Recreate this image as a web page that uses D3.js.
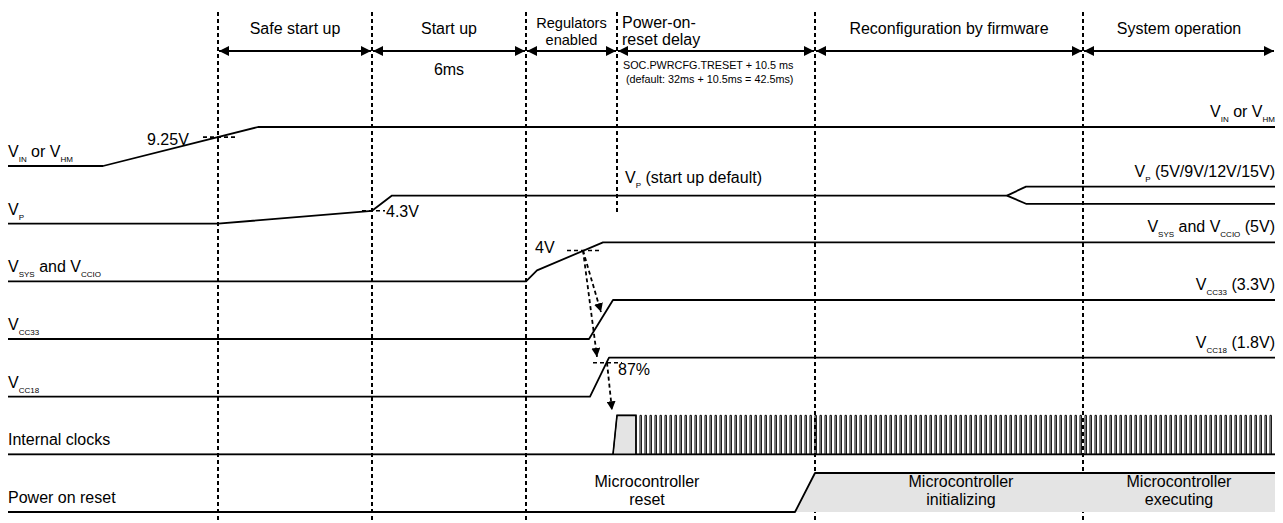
<!DOCTYPE html>
<html>
<head>
<meta charset="utf-8">
<script src="https://cdn.jsdelivr.net/npm/d3@7"></script>
<style>
body { margin: 0; background: #fff; }
text { font-family: "Liberation Sans", Arial, sans-serif; fill: #000; }
</style>
</head>
<body>
<svg id="chart"></svg>
<script>
// phase boundaries (time units) and their header labels
const phaseEdges = [218, 372, 526, 617, 815, 1083, 1275];
const phaseNames = [["Safe start up"], ["Start up"], ["Regulators", "enabled"], ["Power-on-", "reset delay"], ["Reconfiguration by firmware"], ["System operation"]];

// one row per signal
const signalRows = ["vin", "vp", "vsys", "vcc33", "vcc18", "clk", "por"];
const leftLabels = ["V_{IN} or V_{HM}", "V_{P}", "V_{SYS} and V_{CCIO}", "V_{CC33}", "V_{CC18}", "Internal clocks", "Power on reset"];
const rightLabels = ["V_{IN} or V_{HM}", "V_{P} (5V/9V/12V/15V)", "V_{SYS} and V_{CCIO} (5V)", "V_{CC33} (3.3V)", "V_{CC18} (1.8V)", "", ""];

// waveforms: [time, level]   level 0 = off, 1 = full
const vinWave   = [[8, 0], [103, 0], [258, 1], [1275, 1]];
const vpWave    = [[8, 0], [218, 0], [372, 0.33], [392, 0.72], [1007, 0.72]];
const vpUpper   = [[1007, 0.72], [1026, 0.95], [1275, 0.95]];
const vpLower   = [[1007, 0.72], [1026, 0.51], [1275, 0.51]];
const vsysWave  = [[8, 0], [526, 0], [537, 0.28], [603, 1], [1275, 1]];
const vcc33Wave = [[8, 0], [589, 0], [613, 1], [1275, 1]];
const vcc18Wave = [[8, 0], [590, 0], [609, 1], [1275, 1]];
const clkFirst  = [[613, 0], [617, 1], [636, 1], [636, 0]];
const clkTrain  = [640, 1275, 5];   // start, end, period
const porWave   = [[8, 0], [795, 0], [815, 1], [1275, 1]];

// threshold marks: row, level, dash from/to, label
const thresholds = [
  {row: "vin",   level: 0.74, t0: 203, t1: 238, label: "9.25V", lx: 147, ly: 145},
  {row: "vp",    level: 0.33, t0: 362, t1: 385, label: "4.3V",  lx: 386, ly: 217},
  {row: "vsys",  level: 0.79, t0: 567, t1: 602, label: "4V",    lx: 535, ly: 253},
  {row: "vcc18", level: 0.87, t0: 593, t1: 622, label: "87%",   lx: 618, ly: 375}
];
// dashed cause -> effect arrows
const triggers = [
  {from: [583, "vsys", 0.79], to: [601, "vcc33", 0.69]},
  {from: [583, "vsys", 0.79], to: [597, "vcc18", 1.02]},
  {from: [607, "vcc18", 0.87], to: [612, "clk", 1.13]}
];
const resetTexts = [[647, ["Microcontroller", "reset"]], [961, ["Microcontroller", "initializing"]], [1179, ["Microcontroller", "executing"]]];

const W = 1283, H = 523;
const svg = d3.select("#chart").attr("width", W).attr("height", H);

const x = d3.scaleLinear().domain([0, W]).range([0, W]);
const rowY = d3.scalePoint().domain(signalRows).range([166, 512]);
const amp = d3.scaleLinear().domain([0, 1]).range([0, -39]);
const yOf = (row, lv) => rowY(row) + amp(lv);

// text with _{sub} parts
function rich(sel, str, size, subSize) {
  sel.attr("font-size", size);
  let shift = 0;
  str.split(/(_\{[^}]*\})/).filter(s => s).forEach(p => {
    if (p.startsWith("_{")) {
      sel.append("tspan").attr("font-size", subSize).attr("dy", 5 - shift).text(p.slice(2, -1));
      shift = 5;
    } else {
      sel.append("tspan").attr("dy", -shift).text(p);
      shift = 0;
    }
  });
}

const defs = svg.append("defs");
defs.append("marker").attr("id", "head").attr("viewBox", "0 0 10 10")
  .attr("refX", 10).attr("refY", 5).attr("markerUnits", "userSpaceOnUse")
  .attr("markerWidth", 11).attr("markerHeight", 10).attr("orient", "auto-start-reverse")
  .append("path").attr("d", "M0,0L10,5L0,10z").attr("fill", "#000");
defs.append("marker").attr("id", "dhead").attr("viewBox", "0 0 10 10")
  .attr("refX", 10).attr("refY", 5).attr("markerUnits", "userSpaceOnUse")
  .attr("markerWidth", 9).attr("markerHeight", 9).attr("orient", "auto")
  .append("path").attr("d", "M0,0L10,5L0,10z").attr("fill", "#000");

// vertical phase lines
svg.append("g").selectAll("line")
  .data(phaseEdges.slice(0, -1))
  .join("line")
  .attr("x1", d => x(d)).attr("x2", d => x(d))
  .attr("y1", 12).attr("y2", d => d === 617 ? 213 : 521)
  .attr("stroke", "#000").attr("stroke-width", 2).attr("stroke-dasharray", "4,3");

// header arrows + labels
const phases = d3.pairs(phaseEdges);
svg.append("g").selectAll("line")
  .data(phases)
  .join("line")
  .attr("x1", d => x(d[0]) + 1).attr("x2", d => x(d[1]) - 1)
  .attr("y1", 51).attr("y2", 51)
  .attr("stroke", "#000").attr("stroke-width", 2)
  .attr("marker-start", "url(#head)").attr("marker-end", "url(#head)");

phases.forEach((p, i) => {
  const lines = phaseNames[i];
  const left = i === 3;
  const t = svg.append("text")
    .attr("text-anchor", left ? "start" : "middle")
    .attr("font-size", i === 2 ? 14.6 : 16);
  lines.forEach((s, j) => {
    t.append("tspan").attr("x", left ? x(p[0]) + 5 : x((p[0] + p[1]) / 2))
      .attr("y", lines.length > 1 ? 28 + j * 17 : 34).text(s);
  });
});

svg.append("text").attr("x", x(449)).attr("y", 75).attr("text-anchor", "middle").attr("font-size", 16).text("6ms");
svg.append("text").attr("x", x(623)).attr("y", 69).attr("font-size", 10.8).text("SOC.PWRCFG.TRESET + 10.5 ms");
svg.append("text").attr("x", x(626)).attr("y", 83).attr("font-size", 10.8).text("(default: 32ms + 10.5ms = 42.5ms)");

// waveforms
const line = d3.line().x(d => x(d[0]));
const waves = [["vin", vinWave], ["vp", vpWave], ["vp", vpUpper], ["vp", vpLower], ["vsys", vsysWave],
  ["vcc33", vcc33Wave], ["vcc18", vcc18Wave], ["por", porWave]];

// gray fills
svg.append("path")
  .attr("d", d3.area().x(d => x(d[0])).y0(rowY("por")).y1(d => yOf("por", d[1]))(porWave.slice(1)))
  .attr("fill", "#e4e4e4");
svg.append("path")
  .attr("d", d3.area().x(d => x(d[0])).y0(rowY("clk")).y1(d => yOf("clk", d[1]))(clkFirst))
  .attr("fill", "#e4e4e4");

svg.append("g").selectAll("path")
  .data(waves)
  .join("path")
  .attr("d", d => line.y(p => yOf(d[0], p[1]))(d[1]))
  .attr("fill", "none").attr("stroke", "#000").attr("stroke-width", 1.8).attr("stroke-linejoin", "round");

// clock
const clkPts = [[8, 0], ...clkFirst];
d3.range(clkTrain[0], clkTrain[1] - 1, clkTrain[2]).forEach(t => {
  clkPts.push([t, 0], [t, 1], [t + 1.4, 1], [t + 1.4, 0]);
});
clkPts.push([clkTrain[1], 0]);
svg.append("path")
  .attr("d", line.y(p => yOf("clk", p[1]))(clkPts))
  .attr("fill", "none").attr("stroke", "#000").attr("stroke-width", 1);
svg.append("path")
  .attr("d", line.y(p => yOf("clk", p[1]))(clkFirst))
  .attr("fill", "none").attr("stroke", "#000").attr("stroke-width", 1.6);
svg.append("line").attr("x1", x(8)).attr("x2", x(1275)).attr("y1", rowY("clk")).attr("y2", rowY("clk"))
  .attr("stroke", "#000").attr("stroke-width", 1.8);

// labels left / right
signalRows.forEach((r, i) => {
  rich(svg.append("text").attr("x", x(8)).attr("y", rowY(r) - 9), leftLabels[i], 16, 8);
  if (rightLabels[i]) {
    const wave = waves.filter(w => w[0] === r).map(w => w[1]);
    const top = d3.max(wave, w => w[w.length - 1][1]);
    rich(svg.append("text").attr("x", x(1275)).attr("y", yOf(r, top) - 10).attr("text-anchor", "end"),
      rightLabels[i], 16, 8);
  }
});
rich(svg.append("text").attr("x", x(625)).attr("y", 183), "V_{P} (start up default)", 16, 8);

// thresholds
thresholds.forEach(d => {
  svg.append("line").attr("x1", x(d.t0)).attr("x2", x(d.t1))
    .attr("y1", yOf(d.row, d.level)).attr("y2", yOf(d.row, d.level))
    .attr("stroke", "#000").attr("stroke-width", 1.6).attr("stroke-dasharray", "4,3");
  svg.append("text").attr("x", x(d.lx)).attr("y", d.ly).attr("font-size", 16).text(d.label);
});

triggers.forEach(d => {
  svg.append("line")
    .attr("x1", x(d.from[0])).attr("y1", yOf(d.from[1], d.from[2]))
    .attr("x2", x(d.to[0])).attr("y2", yOf(d.to[1], d.to[2]))
    .attr("stroke", "#000").attr("stroke-width", 1.8).attr("stroke-dasharray", "4,3")
    .attr("marker-end", "url(#dhead)");
});

// reset states
resetTexts.forEach(d => {
  const t = svg.append("text").attr("text-anchor", "middle").attr("font-size", 16);
  d[1].forEach((s, j) => t.append("tspan").attr("x", x(d[0])).attr("y", 487 + j * 18).text(s));
});
</script>
</body>
</html>
